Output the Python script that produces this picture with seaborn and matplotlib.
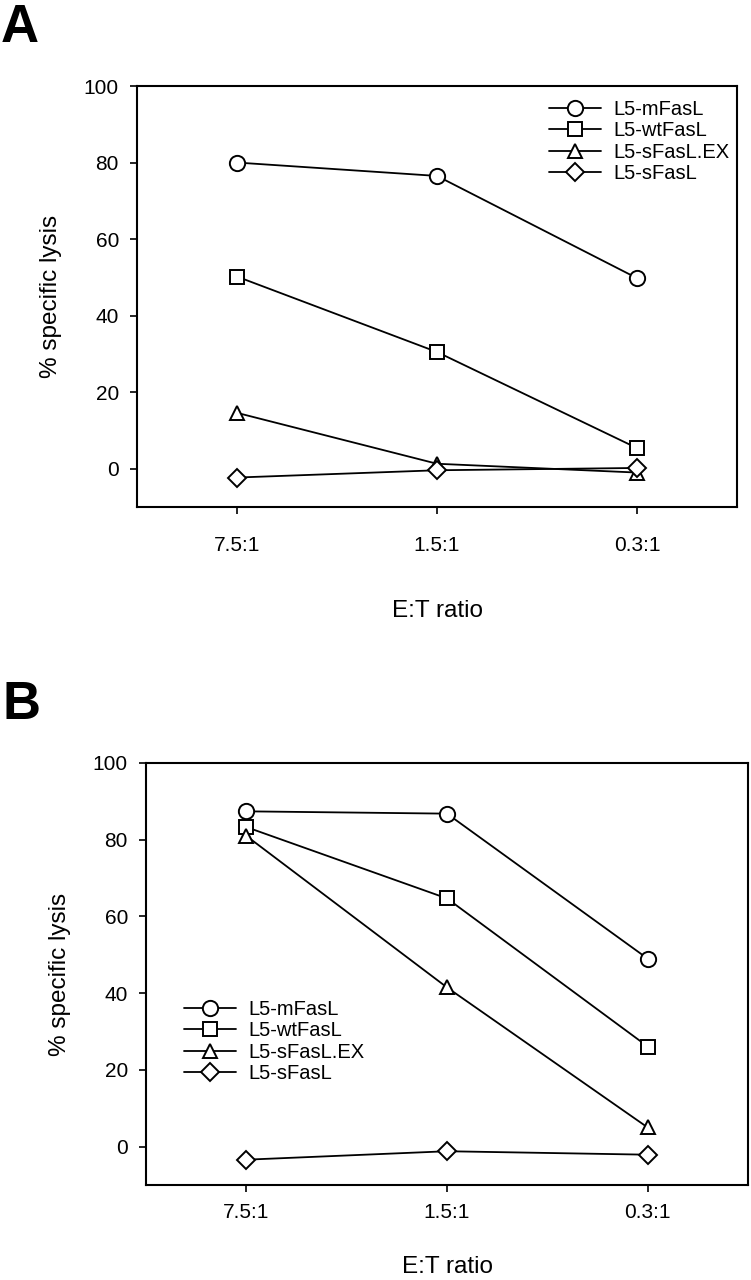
import seaborn as sns
import pandas as pd
import numpy as np
import matplotlib.pyplot as plt

# datos
ratios = ['7.5:1', '1.5:1', '0.3:1']
series = ['L5-mFasL', 'L5-wtFasL', 'L5-sFasL.EX', 'L5-sFasL']
marcadores = ['o', 's', '^', 'D']

# panel A
a_mfasl = [80.0, 76.5, 49.8]
a_wtfasl = [50.2, 30.5, 5.4]
a_sfasl_ex = [14.6, 1.3, -1.0]
a_sfasl = [-2.3, -0.4, 0.2]

# panel B
b_mfasl = [87.4, 86.8, 49.0]
b_wtfasl = [83.3, 64.7, 26.1]
b_sfasl_ex = [81.0, 41.5, 5.0]
b_sfasl = [-3.4, -1.2, -2.1]

yticks = [0, 20, 40, 60, 80, 100]

sns.set_style('ticks')
plt.rcParams['font.family'] = ['Liberation Sans', 'DejaVu Sans']
plt.rcParams['text.color'] = 'black'
plt.rcParams['axes.labelcolor'] = 'black'


def tabla(valores):
    filas = []
    for nombre, vals in zip(series, valores):
        for r, v in zip(ratios, vals):
            filas.append({'serie': nombre, 'ratio': r, 'lisis': v})
    return pd.DataFrame(filas)


def dibujar_panel(ax, df, legend_anchor, xpad, xlabel_y, ylabel_x):
    tamanos = {'o': 11, 's': 10.5, '^': 10.5, 'D': 9}
    for nombre, m in zip(series, marcadores):
        sub = df[df['serie'] == nombre]
        sns.lineplot(data=sub, x='ratio', y='lisis', ax=ax, sort=False,
                     errorbar=None, color='black', linewidth=1.3,
                     marker=m, markersize=tamanos[m], markerfacecolor='white',
                     markeredgecolor='black', markeredgewidth=1.4,
                     label=nombre)
    ax.set_xlim(-0.5, 2.5)
    ax.set_ylim(-10, 100)
    ax.set_yticks(yticks)
    ax.set_xlabel('E:T ratio', fontsize=17.5)
    ax.set_ylabel('% specific lysis', fontsize=17.5)
    ax.xaxis.set_label_coords(0.5, xlabel_y)
    ax.yaxis.set_label_coords(ylabel_x, 0.5)
    for s in ax.spines.values():
        s.set_visible(True)
        s.set_linewidth(1.5)
        s.set_color('black')
    ax.tick_params(axis='both', direction='out', length=5, width=1.2,
                   labelsize=15, colors='black')
    ax.tick_params(axis='x', pad=xpad)
    ax.tick_params(axis='y', pad=8)
    ax.legend(loc='upper left', bbox_to_anchor=legend_anchor,
              bbox_transform=ax.figure.transFigure, frameon=False,
              fontsize=14.5, handlelength=2.6, handletextpad=0.6,
              labelspacing=0.12, borderpad=0, borderaxespad=0)


fig = plt.figure(figsize=(7.51, 12.80), dpi=100)

ax_a = fig.add_axes([137 / 751, 1 - 507 / 1280, 600 / 751, 421 / 1280])
df_a = tabla([a_mfasl, a_wtfasl, a_sfasl_ex, a_sfasl])
dibujar_panel(ax_a, df_a, (549 / 751, 1 - 100 / 1280), 16, -0.222, -0.125)

ax_b = fig.add_axes([146 / 751, 1 - 1185 / 1280, 602 / 751, 422 / 1280])
df_b = tabla([b_mfasl, b_wtfasl, b_sfasl_ex, b_sfasl])
dibujar_panel(ax_b, df_b, (184 / 751, 1 - 1000 / 1280), 8, -0.168, -0.125)

# letras de los paneles
fig.text(1 / 751, 1 - 3 / 1280, 'A', fontsize=38, fontweight='bold', va='top', ha='left')
fig.text(3 / 751, 1 - 680 / 1280, 'B', fontsize=38, fontweight='bold', va='top', ha='left')

fig.savefig('out.png', dpi=100)
plt.close()
